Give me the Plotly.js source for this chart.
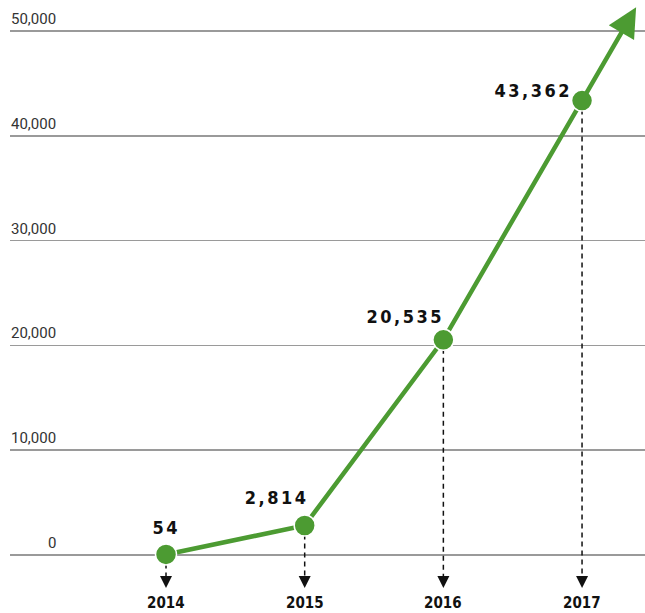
<!DOCTYPE html>
<html>
<head>
<meta charset="utf-8">
<script src="https://cdn.plot.ly/plotly-3.0.1.min.js"></script>
<style>
html,body{margin:0;padding:0;background:#fff;}
#chart{width:645px;height:613px;}
g.annotation[data-index="0"] text,
g.annotation[data-index="1"] text,
g.annotation[data-index="2"] text,
g.annotation[data-index="3"] text{letter-spacing:2.5px;}
</style>
</head>
<body>
<div id="chart"></div>
<script>
// ---- data ----
const years = [2014, 2015, 2016, 2017];
const values = [54, 2814, 20535, 43362];
const valueLabels = ['54', '2,814', '20,535', '43,362'];
const yearLabels = ['2014', '2015', '2016', '2017'];
const tickVals = [0, 10000, 20000, 30000, 40000, 50000];
const tickText = ['0', '10,000', '20,000', '30,000', '40,000', '50,000'];

// ---- style ----
const green = '#4c9b32';
const labelFont = {family: 'DejaVu Sans Condensed, DejaVu Sans', size: 18, color: '#111', weight: 'bold'};
const yearFont = {family: 'DejaVu Sans Condensed, DejaVu Sans', size: 15, color: '#111', weight: 'bold'};
const tickFont = {family: 'Roboto, Liberation Sans', size: 15, color: '#333'};
const labelPlacement = [
  {xanchor: 'center', xshift: 0, yshift: 14},
  {xanchor: 'right', xshift: -1, yshift: 16},
  {xanchor: 'right', xshift: -4, yshift: 11},
  {xanchor: 'right', xshift: -15, yshift: -2.5}
];
const dashEnd = -2450;      // where dashed drop lines stop (axis units)
const arrowTail = -2300, arrowHead = -3150;
const yearLabelY = -4600;
const extend = 0.39;        // trend-arrow extension as fraction of last segment

const traces = [];
years.forEach((yr, i) => {
  traces.push({
    x: [yr, yr], y: [values[i], dashEnd], mode: 'lines',
    line: {color: '#111', width: 1.5, dash: '5px,4px'},
    hoverinfo: 'skip', showlegend: false
  });
});
traces.push({
  x: years, y: values, mode: 'lines+markers',
  line: {color: green, width: 4.5},
  marker: {color: green, size: 21, line: {color: '#fff', width: 1.5}},
  showlegend: false
});

const annotations = [];
years.forEach((yr, i) => {
  const p = labelPlacement[i];
  annotations.push({
    x: yr, y: values[i], xref: 'x', yref: 'y', text: valueLabels[i],
    showarrow: false, font: labelFont, xanchor: p.xanchor, yanchor: 'bottom',
    xshift: p.xshift, yshift: p.yshift
  });
});
years.forEach((yr, i) => {
  annotations.push({
    x: yr, y: yearLabelY, xref: 'x', yref: 'y', text: yearLabels[i],
    showarrow: false, font: yearFont, xanchor: 'center', yanchor: 'middle'
  });
  annotations.push({
    x: yr, y: arrowHead, ax: yr, ay: arrowTail, xref: 'x', yref: 'y', axref: 'x', ayref: 'y',
    text: '', showarrow: true, arrowhead: 2, arrowsize: 1.6, arrowwidth: 1.5, arrowcolor: '#111'
  });
});
tickVals.forEach((v, i) => {
  annotations.push({
    x: 0.0756, y: v, xref: 'paper', yref: 'y', text: tickText[i],
    showarrow: false, font: tickFont, xanchor: 'right', yanchor: 'bottom', yshift: 1
  });
});
// trend arrow beyond last point
const n = years.length;
const tipX = years[n-1] + extend * (years[n-1] - years[n-2]);
const tipY = values[n-1] + extend * (values[n-1] - values[n-2]);
annotations.push({
  x: tipX, y: tipY, ax: years[n-1], ay: values[n-1], xref: 'x', yref: 'y', axref: 'x', ayref: 'y',
  text: '', showarrow: true, arrowhead: 2, arrowsize: 1.3, arrowwidth: 4.5, arrowcolor: green
});

const layout = {
  width: 645, height: 613,
  margin: {l: 10, r: 0, t: 0, b: 0},
  paper_bgcolor: '#fff', plot_bgcolor: '#fff',
  showlegend: false,
  xaxis: {range: [2012.875, 2017.454], showgrid: false, zeroline: false, showticklabels: false, ticks: '', showline: false},
  yaxis: {range: [-5534, 52958], tickvals: tickVals, showticklabels: false, ticks: '',
          showgrid: true, gridcolor: '#9a9a9a', gridwidth: 1.5, zeroline: false, showline: false},
  annotations: annotations
};
Plotly.newPlot('chart', traces, layout, {displayModeBar: false, staticPlot: true});
</script>
</body>
</html>
